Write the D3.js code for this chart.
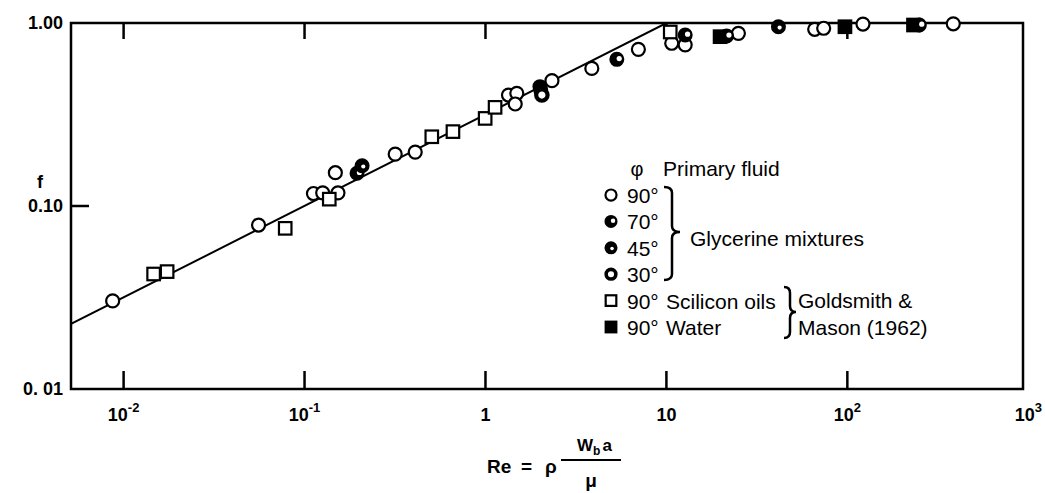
<!DOCTYPE html>
<html>
<head>
<meta charset="utf-8">
<script src="https://cdn.jsdelivr.net/npm/d3@7"></script>
<style>
body { margin: 0; background: #fff; }
text { font-family: "Liberation Sans", Arial, Helvetica, sans-serif; fill: #000; }
</style>
</head>
<body>
<div id="chart"></div>
<script>
// values (Re, f)
const re90 = [0.0087, 0.0557, 0.112, 0.126, 0.153, 0.148, 0.317, 0.409, 1.34, 1.49, 1.46, 2.33, 3.87, 7.0, 10.7, 12.7, 25, 66, 74, 122, 385];
const f90  = [0.0303, 0.0787, 0.117, 0.118, 0.118, 0.152, 0.192, 0.197, 0.404, 0.413, 0.361, 0.484, 0.565, 0.718, 0.775, 0.76, 0.878, 0.924, 0.936, 0.987, 0.99];
const re70 = [0.195, 2.0, 5.32, 12.7, 21.5, 250];
const f70  = [0.151, 0.449, 0.633, 0.86, 0.85, 0.975];
const re45 = [0.208, 2.02, 41.6];
const f45  = [0.166, 0.43, 0.954];
const re30 = [2.05];
const f30  = [0.404];
const reOil = [0.01465, 0.0174, 0.0782, 0.137, 0.505, 0.661, 0.996, 1.13, 10.5];
const fOil  = [0.0425, 0.0438, 0.0755, 0.109, 0.239, 0.255, 0.301, 0.346, 0.893];
const reWater = [19.8, 97, 232];
const fWater  = [0.842, 0.954, 0.975];

// correlation line
const lineRe = [0.005, 10, 1000];
const lineF  = [0.0224, 1, 1];

const xTicks = [0.01, 0.1, 1, 10, 100, 1000];
const xTickBase = ["10", "10", "1", "10", "10", "10"];
const xTickSup  = ["-2", "-1", "", "", "2", "3"];
const yTicks = [0.01, 0.1, 1];
const yTickLabels = ["0. 01", "0.10", "1.00"];

const legendRows = [
    { type: "c90", deg: "90°", label: "" },
    { type: "c70", deg: "70°", label: "" },
    { type: "c45", deg: "45°", label: "" },
    { type: "c30", deg: "30°", label: "" },
    { type: "oil", deg: "90°", label: "Scilicon oils" },
    { type: "water", deg: "90°", label: "Water" }
];

const W = 1045, H = 493;
const svg = d3.select("#chart").append("svg")
    .attr("width", W).attr("height", H);

const x = d3.scaleLog().domain([0.00512, 935]).range([71, 1023]);
const y = d3.scaleLog().domain([0.01, 1]).range([389, 23]);
const [x0, x1] = x.range();
const [y0, y1] = y.range();

svg.append("clipPath").attr("id", "plot")
    .append("rect").attr("x", x0).attr("y", y1).attr("width", x1 - x0).attr("height", y0 - y1);

// frame
svg.append("rect")
    .attr("x", x0).attr("y", y1).attr("width", x1 - x0).attr("height", y0 - y1)
    .attr("fill", "none").attr("stroke", "#000").attr("stroke-width", 2.5);

// inward ticks
const inside = xTicks.filter(t => t <= x.domain()[1]);
svg.selectAll(".xtb").data(inside).enter().append("line")
    .attr("x1", d => x(d)).attr("x2", d => x(d))
    .attr("y1", y0).attr("y2", y0 - 18)
    .attr("stroke", "#000").attr("stroke-width", 2.5);
svg.selectAll(".xtt").data(inside).enter().append("line")
    .attr("x1", d => x(d)).attr("x2", d => x(d))
    .attr("y1", y1).attr("y2", y1 + 16)
    .attr("stroke", "#000").attr("stroke-width", 2.5);
svg.append("line")
    .attr("x1", x0).attr("x2", x0 + 18)
    .attr("y1", y(0.1)).attr("y2", y(0.1))
    .attr("stroke", "#000").attr("stroke-width", 2.5);

// tick labels
svg.selectAll(".yl").data(yTicks).enter().append("text")
    .attr("x", 63).attr("y", d => y(d)).attr("dy", "0.36em")
    .attr("text-anchor", "end")
    .style("font-size", "18px").style("font-weight", "bold")
    .text((d, i) => yTickLabels[i]);

xTicks.forEach(function(t, i) {
    const lab = svg.append("text")
        .attr("x", x(t)).attr("y", 421)
        .attr("text-anchor", "middle")
        .style("font-size", "18px").style("font-weight", "bold");
    lab.append("tspan").text(xTickBase[i]);
    if (xTickSup[i]) {
        lab.append("tspan").attr("dy", -9).style("font-size", "13px").text(xTickSup[i]);
    }
});

// axis titles
svg.append("text").attr("x", 40).attr("y", 182).attr("dy", "0.36em")
    .attr("text-anchor", "middle")
    .style("font-size", "18px").style("font-weight", "bold").text("f");

const title = svg.append("g").style("font-size", "19px").style("font-weight", "bold");
title.append("text").attr("x", 487).attr("y", 473).text("Re");
title.append("text").attr("x", 521).attr("y", 473).text("=");
title.append("text").attr("x", 545).attr("y", 473).text("ρ");
svg.append("line").attr("x1", 561).attr("x2", 621).attr("y1", 460).attr("y2", 460)
    .attr("stroke", "#000").attr("stroke-width", 2);
const num = svg.append("text").attr("x", 577).attr("y", 451)
    .style("font-size", "17px").style("font-weight", "bold");
num.append("tspan").text("W");
num.append("tspan").attr("dy", 4).style("font-size", "12px").text("b");
num.append("tspan").attr("dy", -4).attr("dx", 2).text("a");
svg.append("text").attr("x", 591).attr("y", 487)
    .attr("text-anchor", "middle")
    .style("font-size", "19px").style("font-weight", "bold").text("μ");

// correlation line
const line = d3.line().x(d => x(d[0])).y(d => y(d[1]));
svg.append("path")
    .attr("d", line(d3.zip(lineRe, lineF)))
    .attr("clip-path", "url(#plot)")
    .attr("fill", "none").attr("stroke", "#000").attr("stroke-width", 2);

// marker shapes
function marker(g, type, s) {
    const r = 6.5 * s, a = 12.5 * s;
    if (type === "oil" || type === "water") {
        g.append("rect").attr("x", -a / 2).attr("y", -a / 2).attr("width", a).attr("height", a)
            .attr("fill", type === "water" ? "#000" : "#fff")
            .attr("stroke", "#000").attr("stroke-width", 2.2);
    } else if (type === "c90") {
        g.append("circle").attr("r", r).attr("fill", "#fff").attr("stroke", "#000").attr("stroke-width", 2.2);
    } else if (type === "c30") {
        g.append("circle").attr("r", r - 0.8 * s).attr("fill", "#fff").attr("stroke", "#000").attr("stroke-width", 4.2 * s);
    } else {
        g.append("circle").attr("r", r).attr("fill", "#000").attr("stroke", "#000").attr("stroke-width", 2);
        const hole = type === "c70" ? [2.4, -0.8, 2.6] : [1.2, 0.8, 2.1];
        g.append("circle").attr("cx", hole[0] * s).attr("cy", hole[1] * s).attr("r", hole[2] * s).attr("fill", "#fff");
    }
}

const series = [
    { type: "c90", re: re90, f: f90 },
    { type: "oil", re: reOil, f: fOil },
    { type: "water", re: reWater, f: fWater },
    { type: "c70", re: re70, f: f70 },
    { type: "c45", re: re45, f: f45 },
    { type: "c30", re: re30, f: f30 }
];
series.forEach(function(sr) {
    sr.re.forEach(function(v, i) {
        const g = svg.append("g").attr("transform", `translate(${x(v)},${y(sr.f[i])})`);
        marker(g, sr.type, 1);
    });
});

// legend
const leg = svg.append("g");
leg.append("text").attr("x", 637).attr("y", 176).attr("text-anchor", "middle")
    .style("font-size", "20px").text("φ");
leg.append("text").attr("x", 663).attr("y", 176)
    .style("font-size", "21px").text("Primary fluid");

legendRows.forEach(function(row, i) {
    const cy = 195 + i * 26.4;
    const g = leg.append("g").attr("transform", `translate(611,${cy})`);
    marker(g, row.type, 0.85);
    leg.append("text").attr("x", 627).attr("y", cy + 8)
        .style("font-size", "21px").text(row.deg);
    if (row.label) {
        leg.append("text").attr("x", 666).attr("y", cy + 8)
            .style("font-size", "21px").text(row.label);
    }
});

function brace(x, ya, yb, yt, w) {
    const m = x + w * 0.5, k = 6;
    return `M${x},${ya} Q${m},${ya} ${m},${ya + k} L${m},${yt - k} Q${m},${yt} ${x + w},${yt}` +
        ` Q${m},${yt} ${m},${yt + k} L${m},${yb - k} Q${m},${yb} ${x},${yb}`;
}
leg.append("path").attr("d", brace(664, 187, 280, 232, 16))
    .attr("fill", "none").attr("stroke", "#000").attr("stroke-width", 2.5);
leg.append("text").attr("x", 690).attr("y", 246)
    .style("font-size", "21px").text("Glycerine mixtures");

leg.append("path").attr("d", brace(784, 287, 338, 312, 12))
    .attr("fill", "none").attr("stroke", "#000").attr("stroke-width", 2.5);
leg.append("text").attr("x", 798).attr("y", 308)
    .style("font-size", "21px").text("Goldsmith &");
leg.append("text").attr("x", 798).attr("y", 335)
    .style("font-size", "21px").text("Mason (1962)");
</script>
</body>
</html>
